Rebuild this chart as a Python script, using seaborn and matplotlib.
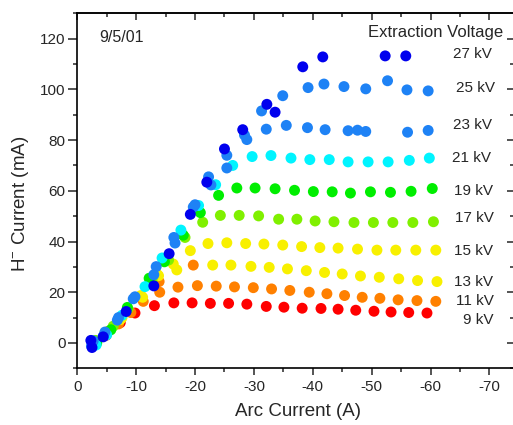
import matplotlib
matplotlib.use("Agg")
import matplotlib.pyplot as plt
from matplotlib.ticker import MultipleLocator
import numpy as np
import pandas as pd
import seaborn as sns

# arc current (A) and H- current (mA) for each extraction voltage
arc_9kv = [-2.8, -4.9, -7.3, -9.8, -13.1, -16.4, -19.5, -22.6, -25.7, -28.8, -32.1, -35.1, -38.2, -41.4, -44.3,
           -47.3, -50.4, -53.3, -56.3, -59.4]
h_9kv = [-0.5, 3.0, 8.0, 11.8, 14.7, 15.8, 15.8, 15.6, 15.6, 15.3, 14.4, 14.1, 13.7, 13.6, 13.3,
         12.9, 12.5, 12.2, 12.0, 11.8]

arc_11kv = [-2.9, -5.2, -7.0, -9.1, -11.2, -14.0, -13.9, -17.1, -19.7, -20.4, -23.6, -26.7, -29.9, -33.0, -36.1,
            -39.4, -42.4, -45.4, -48.4, -51.4, -54.5, -57.7, -60.9]
h_11kv = [0.0, 4.5, 7.5, 12.0, 16.4, 20.0, 24.2, 22.0, 30.7, 22.6, 22.4, 22.1, 21.8, 21.3, 20.7,
          20.0, 19.4, 18.7, 18.0, 17.6, 17.0, 16.7, 16.4]

arc_13kv = [-2.6, -4.6, -7.3, -10.8, -13.8, -16.9, -23.0, -26.1, -29.5, -32.6, -35.7, -38.9, -42.0, -45.0,
            -48.1, -51.3, -54.6, -57.8, -61.1]
h_13kv = [-1.0, 3.5, 9.2, 18.7, 26.5, 28.8, 30.7, 30.7, 30.2, 29.8, 29.2, 28.5, 27.8, 27.2,
          26.4, 25.9, 25.3, 24.6, 24.2]

arc_15kv = [-3.0, -5.0, -7.6, -11.1, -13.6, -16.3, -19.2, -22.2, -25.4, -28.6, -31.7, -34.9, -38.1, -41.2,
            -44.3, -47.6, -50.9, -54.1, -57.5, -60.9]
h_15kv = [0.5, 4.0, 10.0, 18.0, 27.0, 31.1, 36.4, 39.2, 39.5, 39.2, 39.0, 38.6, 38.0, 37.6,
          37.4, 37.0, 36.6, 36.6, 36.6, 36.6]

arc_17kv = [-3.1, -6.1, -8.6, -12.7, -15.5, -18.3, -21.3, -24.3, -27.5, -30.8, -34.2, -37.3, -40.4, -43.6,
            -47.0, -50.3, -53.6, -57.0, -60.5]
h_17kv = [1.0, 6.6, 13.5, 24.8, 32.7, 41.6, 47.6, 50.3, 50.3, 50.1, 48.8, 48.8, 48.1, 47.8,
          47.5, 47.5, 47.5, 47.5, 47.8]

arc_19kv = [-3.3, -5.7, -8.5, -12.2, -14.8, -18.0, -20.9, -24.0, -27.1, -30.2, -33.6, -36.9, -40.1, -43.3,
            -46.4, -49.8, -53.2, -56.7, -60.3]
h_19kv = [0.0, 5.2, 14.0, 25.5, 32.0, 42.5, 51.4, 58.2, 61.1, 61.1, 60.8, 60.2, 59.7, 59.6,
          59.1, 59.6, 59.4, 59.8, 60.9]

arc_21kv = [-3.2, -5.0, -7.6, -11.5, -14.4, -17.6, -20.6, -23.5, -26.4, -29.7, -32.9, -36.3, -39.5, -42.8,
            -46.0, -49.4, -52.8, -56.4, -59.8]
h_21kv = [-0.8, 3.2, 10.9, 22.2, 33.5, 44.5, 54.2, 62.4, 70.0, 73.5, 73.9, 72.9, 72.3, 72.3,
          71.4, 71.4, 71.4, 72.0, 72.9]

arc_23kv = [-2.7, -4.7, -7.0, -9.5, -13.0, -16.4, -19.7, -22.7, -25.4, -28.8, -32.1, -35.5, -39.1, -42.1,
            -46.0, -47.6, -49.0, -56.1, -59.6]
h_23kv = [0.8, 4.3, 10.0, 17.4, 26.9, 41.6, 53.6, 62.3, 74.0, 80.2, 84.3, 85.8, 84.9, 84.1,
          83.7, 83.9, 83.4, 83.1, 83.8]

arc_25kv = [-2.4, -4.4, -6.8, -9.8, -13.4, -16.6, -20.0, -22.3, -25.4, -28.4, -31.3, -34.9, -39.2, -41.9,
            -45.3, -49.0, -52.7, -56.0, -59.6]
h_25kv = [-1.2, 2.6, 9.0, 18.2, 30.1, 39.4, 54.5, 65.5, 69.0, 82.0, 91.5, 97.5, 100.7, 102.1,
          101.1, 100.2, 103.4, 99.8, 99.4]

arc_27kv = [-2.5, -2.3, -4.4, -8.3, -13.0, -15.6, -19.2, -22.0, -25.0, -28.1, -32.2, -33.6, -38.3, -41.7,
            -52.3, -55.8]
h_27kv = [-1.8, 1.0, 2.4, 12.4, 22.5, 35.2, 50.7, 63.4, 76.5, 84.1, 94.1, 91.0, 108.9, 112.8,
          113.2, 113.2]

voltages = ["9 kV", "11 kV", "13 kV", "15 kV", "17 kV", "19 kV", "21 kV", "23 kV", "25 kV", "27 kV"]
arcs = [arc_9kv, arc_11kv, arc_13kv, arc_15kv, arc_17kv, arc_19kv, arc_21kv, arc_23kv, arc_25kv, arc_27kv]
hs = [h_9kv, h_11kv, h_13kv, h_15kv, h_17kv, h_19kv, h_21kv, h_23kv, h_25kv, h_27kv]
colors = ["#ff0000", "#ff8000", "#f8f000", "#f8f000", "#80f000", "#00ee00", "#00f4ff", "#1e82f5", "#1e82f5",
          "#0000ee"]

# label positions (data coords, baseline) for the voltage annotations
label_y = [7.6, 14.8, 22.6, 34.7, 47.7, 58.3, 71.4, 84.3, 98.8, 112.4]
label_x = [-70.7, -70.7, -70.7, -70.7, -70.7, -70.7, -70.3, -70.5, -71.0, -70.45]

rows = []
for v, xs, ys in zip(voltages, arcs, hs):
    for x, y in zip(xs, ys):
        rows.append([v, x, y])
df = pd.DataFrame(rows, columns=["Voltage", "Arc", "H"])

sns.set_theme(style="ticks")
plt.rcParams["font.family"] = ["Liberation Sans", "DejaVu Sans"]
plt.rcParams["mathtext.fontset"] = "custom"
plt.rcParams["mathtext.rm"] = "Liberation Sans"
plt.rcParams["mathtext.it"] = "Liberation Sans:italic"
plt.rcParams["axes.unicode_minus"] = False

fig = plt.figure(figsize=(5.13, 4.25), dpi=100)
# right spine sits just past the image edge, as in the original crop
ax = fig.add_axes([77.3 / 513, (425 - 368.3) / 425, (513.8 - 77.3) / 513, 355 / 425])

sns.scatterplot(data=df, x="Arc", y="H", hue="Voltage", hue_order=voltages,
                palette=dict(zip(voltages, colors)), s=62, linewidth=0, alpha=1,
                legend=False, ax=ax)

ax.set_xlim(0, -74.15)
ax.set_ylim(-10, 130)
ax.set_xticks(np.arange(0, -71, -10))
ax.set_yticks(np.arange(0, 121, 20))
ax.xaxis.set_minor_locator(MultipleLocator(5))
ax.yaxis.set_minor_locator(MultipleLocator(10))

for s in ax.spines.values():
    s.set_linewidth(1.2)
    s.set_color("black")

ax.tick_params(axis="x", which="major", direction="out", length=5, width=1.1, labelsize=11, pad=3.5,
               top=False)
ax.tick_params(axis="y", which="major", direction="out", length=6.5, width=1.1, labelsize=11, pad=2)
ax.tick_params(axis="both", which="minor", direction="out", length=3, width=1.1)

# mirrored ticks on top and right, pointing in
ax_top = ax.secondary_xaxis("top")
ax_top.set_xticks(np.arange(0, -71, -10))
ax_top.xaxis.set_minor_locator(MultipleLocator(5))
ax_top.tick_params(which="major", direction="in", length=5, width=1.1, labeltop=False)
ax_top.tick_params(which="minor", direction="in", length=3, width=1.1)
ax_top.spines["top"].set_linewidth(1.2)
ax_right = ax.secondary_yaxis("right")
ax_right.set_yticks(np.arange(0, 121, 20))
ax_right.yaxis.set_minor_locator(MultipleLocator(10))
ax_right.tick_params(which="major", direction="in", length=5, width=1.1, labelright=False)
ax_right.tick_params(which="minor", direction="in", length=3, width=1.1)

ax.set_xlabel("Arc Current (A)", fontsize=13.5)
ax.set_ylabel("H$^{-}$ Current (mA)", fontsize=13.5)
ax.xaxis.set_label_coords(0.506, -0.098)
ax.yaxis.set_label_coords(-0.105, 0.463)

ax.text(-3.7, 118.7, "9/5/01", fontsize=11.5, ha="left", va="baseline")
ax.text(-72.3, 120.7, "Extraction Voltage", fontsize=12, ha="right", va="baseline")
for v, lx, ly in zip(voltages, label_x, label_y):
    ax.text(lx, ly, v, fontsize=11, ha="right", va="baseline")

fig.savefig("out.png", dpi=100)
plt.close(fig)
